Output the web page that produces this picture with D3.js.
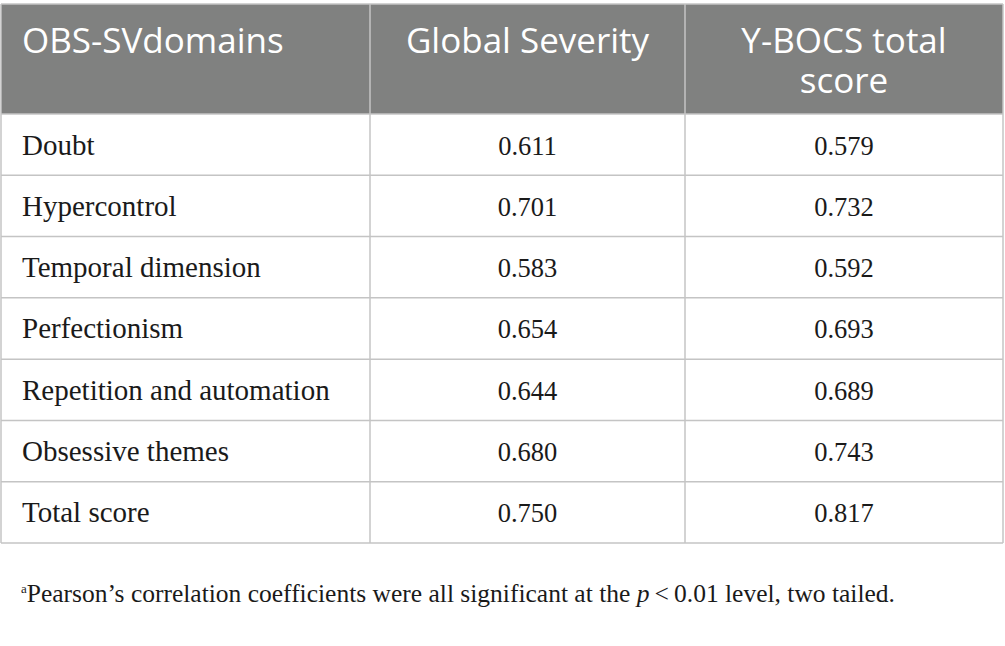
<!DOCTYPE html>
<html>
<head>
<meta charset="utf-8">
<script src="https://cdn.jsdelivr.net/npm/d3@7"></script>
<style>
	body { margin:0; background:#fff; }
	.hdr { font-family:"Open Sans", "Noto Sans", sans-serif; fill:#fff; }
	.cell { font-family:"Liberation Serif", "DejaVu Serif", serif; fill:#1a1a1a; }
</style>
</head>
<body>
<div id="svg-container"></div>
<script>
var domains = ['Doubt','Hypercontrol','Temporal dimension','Perfectionism','Repetition and automation','Obsessive themes','Total score'],
	globalSeverity = ['0.611','0.701','0.583','0.654','0.644','0.680','0.750'],
	ybocsTotal = ['0.579','0.732','0.592','0.693','0.689','0.743','0.817'],
	columns = ['OBS-SVdomains','Global Severity','Y-BOCS total score'],
	headerLines = [['OBS-SVdomains'],['Global Severity'],['Y-BOCS total','score']];

var svg_width = 1005,
	svg_height = 646,
	table_top = 4,
	header_bottom = 114,
	table_bottom = 543,
	col_edges = [1, 370, 685, 1003],
	line_color = '#c4c4c4',
	header_fill = '#808180';

var svg = d3.select("#svg-container").append("svg")
	.attr("width", svg_width)
	.attr("height", svg_height);

// rows through a band scale, columns through an ordinal scale
var y = d3.scaleBand().domain(d3.range(domains.length)).range([header_bottom, table_bottom]);
var colX = d3.scaleOrdinal().domain(columns).range(col_edges.slice(0, 3));
var colW = function (i) { return col_edges[i+1]-col_edges[i]; };

// header
svg.append("rect")
	.attr("x", col_edges[0]).attr("y", table_top)
	.attr("width", col_edges[3]-col_edges[0]).attr("height", header_bottom-table_top)
	.attr("fill", header_fill);

var hdr = svg.selectAll("text.hdr").data(columns).enter().append("text")
	.attr("class", "hdr")
	.style("font-size", "35px")
	.attr("text-anchor", function (d,i) { return i==0 ? "start" : "middle"; })
	.attr("transform", function (d,i) {
		var x = i==0 ? colX(d)+21 : colX(d)+colW(i)/2;
		return "translate("+x+" 53)";
	});
hdr.selectAll("tspan").data(function (d,i) { return headerLines[i]; }).enter().append("tspan")
	.attr("x", 0)
	.attr("dy", function (d,i) { return i==0 ? 0 : 40; })
	.text(function (d) { return d; });

// body rows
var rows = svg.selectAll("g.row").data(domains).enter().append("g")
	.attr("class", "row")
	.attr("transform", function (d,i) { return "translate(0 "+y(i)+")"; });

rows.append("text").attr("class", "cell")
	.attr("x", colX(columns[0])+21)
	.attr("y", y.bandwidth()/2+10)
	.style("font-size", "29px")
	.text(function (d) { return d; });

rows.append("text").attr("class", "cell")
	.attr("x", colX(columns[1])+colW(1)/2)
	.attr("y", y.bandwidth()/2+10)
	.attr("text-anchor", "middle")
	.style("font-size", "26.5px")
	.text(function (d,i) { return globalSeverity[i]; });

rows.append("text").attr("class", "cell")
	.attr("x", colX(columns[2])+colW(2)/2)
	.attr("y", y.bandwidth()/2+10)
	.attr("text-anchor", "middle")
	.style("font-size", "26.5px")
	.text(function (d,i) { return ybocsTotal[i]; });

// grid lines
var grid = svg.append("g").attr("stroke", line_color).attr("stroke-width", 1.5);
grid.selectAll("line.h").data(d3.range(domains.length+1)).enter().append("line")
	.attr("x1", col_edges[0]).attr("x2", col_edges[3])
	.attr("y1", function (d) { return d==domains.length ? table_bottom : y(d); })
	.attr("y2", function (d) { return d==domains.length ? table_bottom : y(d); });
grid.append("line")
	.attr("x1", col_edges[0]).attr("x2", col_edges[3])
	.attr("y1", table_top).attr("y2", table_top);
grid.selectAll("line.v").data(col_edges).enter().append("line")
	.attr("x1", function (d) { return d; }).attr("x2", function (d) { return d; })
	.attr("y1", table_top).attr("y2", table_bottom);

// footnote
var note = svg.append("text").attr("class", "cell")
	.attr("x", 21).attr("y", 602)
	.style("font-size", "25.5px");
note.append("tspan").attr("dy", -9).style("font-size", "13px").text("a");
note.append("tspan").attr("dy", 9).text("Pearson\u2019s correlation coefficients were all significant at the ");
note.append("tspan").style("font-style", "italic").text("p");
note.append("tspan").text("\u2009<\u20090.01 level, two tailed.");
</script>
</body>
</html>
